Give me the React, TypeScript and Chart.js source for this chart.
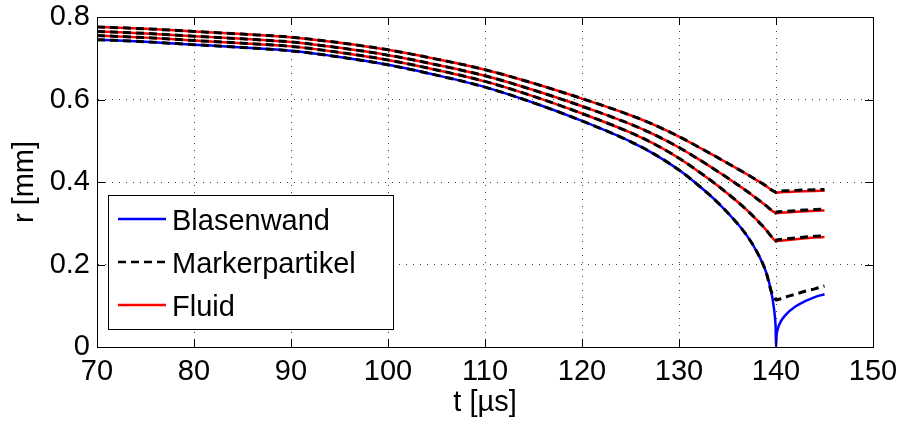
import React, { useEffect, useRef } from "react";
import { Chart, registerables } from "chart.js";

Chart.register(...registerables);

// time axis [µs]
const tValues = [70, 75, 80, 85, 90, 95, 100, 105, 110, 115, 120, 125, 127.5, 130, 132, 134, 136, 137, 138, 139, 139.5, 139.8, 139.9, 139.97, 140, 140.05, 140.2, 140.5, 141, 142, 143, 144, 145];

// Blasenwand (bubble wall) radius [mm]
const blasenwand = [0.745, 0.740, 0.733, 0.726, 0.718, 0.703, 0.684, 0.659, 0.630, 0.592, 0.548, 0.498, 0.467, 0.429, 0.392, 0.350, 0.300, 0.270, 0.232, 0.180, 0.135, 0.092, 0.070, 0.040, 0.000, 0.025, 0.045, 0.062, 0.078, 0.098, 0.111, 0.121, 0.128];

// Fluid element radii [mm]
const fluidInner = [0.755, 0.750, 0.743, 0.7365, 0.7288, 0.7142, 0.6958, 0.6717, 0.6439, 0.6077, 0.5661, 0.5197, 0.4916, 0.4577, 0.4257, 0.3910, 0.3528, 0.3320, 0.3086, 0.2833, 0.2685, 0.2605, 0.2584, 0.2569, 0.2566, 0.2566, 0.2571, 0.2578, 0.2590, 0.2613, 0.2634, 0.2653, 0.2668];
const fluidMiddle = [0.765, 0.7603, 0.7536, 0.747, 0.7395, 0.7253, 0.7075, 0.6843, 0.6575, 0.6229, 0.5836, 0.5403, 0.5143, 0.4837, 0.4554, 0.4256, 0.3941, 0.3777, 0.3601, 0.3421, 0.3322, 0.3271, 0.3257, 0.3248, 0.3246, 0.3246, 0.3249, 0.3254, 0.3261, 0.3276, 0.3290, 0.3301, 0.3311];
const fluidOuter = [0.776, 0.7714, 0.765, 0.7585, 0.7512, 0.7376, 0.7204, 0.6979, 0.6723, 0.6393, 0.6022, 0.5618, 0.5379, 0.5102, 0.4849, 0.4590, 0.4323, 0.4189, 0.4047, 0.3900, 0.3810, 0.3770, 0.3760, 0.3750, 0.3745, 0.3745, 0.3748, 0.3752, 0.3757, 0.3767, 0.3776, 0.3784, 0.3790];

// Markerpartikel (marker particle) radii [mm]
const markerWall = [0.745, 0.740, 0.733, 0.726, 0.718, 0.703, 0.684, 0.659, 0.630, 0.592, 0.548, 0.498, 0.467, 0.429, 0.392, 0.350, 0.300, 0.270, 0.232, 0.180, 0.135, 0.122, 0.117, 0.115, 0.114, 0.114, 0.115, 0.117, 0.121, 0.128, 0.135, 0.141, 0.148];
const markerInner = [0.755, 0.750, 0.743, 0.7365, 0.7288, 0.7142, 0.6958, 0.6717, 0.6439, 0.6077, 0.5661, 0.5197, 0.4916, 0.4577, 0.4257, 0.3910, 0.3528, 0.3320, 0.3086, 0.2833, 0.2685, 0.2605, 0.2584, 0.2569, 0.2566, 0.2596, 0.2601, 0.2608, 0.2620, 0.2643, 0.2664, 0.2683, 0.2698];
const markerMiddle = [0.765, 0.7603, 0.7536, 0.747, 0.7395, 0.7253, 0.7075, 0.6843, 0.6575, 0.6229, 0.5836, 0.5403, 0.5143, 0.4837, 0.4554, 0.4256, 0.3941, 0.3777, 0.3601, 0.3421, 0.3322, 0.3271, 0.3257, 0.3248, 0.3246, 0.3276, 0.3279, 0.3284, 0.3291, 0.3306, 0.3320, 0.3331, 0.3341];
const markerOuter = [0.776, 0.7714, 0.765, 0.7585, 0.7512, 0.7376, 0.7204, 0.6979, 0.6723, 0.6393, 0.6022, 0.5618, 0.5379, 0.5102, 0.4849, 0.4590, 0.4323, 0.4189, 0.4047, 0.3900, 0.3810, 0.3770, 0.3760, 0.3750, 0.3745, 0.3775, 0.3778, 0.3782, 0.3787, 0.3797, 0.3806, 0.3814, 0.3820];

const legendLabels = ["Blasenwand", "Markerpartikel", "Fluid"];
const xTitle = "t [µs]";
const yTitle = "r [mm]";

const FONT = "'Liberation Sans', Arial, Helvetica, sans-serif";
const BLUE = "#0000ff";
const RED = "#ff0000";
const BLACK = "#000000";
const DASH = [8, 5];

const toPoints = (ys: number[]) => tValues.map((x, i) => ({ x, y: ys[i] }));

const framePlugin = {
  id: "matlabFrame",
  afterDraw(chart: any) {
    const { ctx, chartArea: a, scales } = chart;
    ctx.save();
    // inward ticks
    ctx.strokeStyle = BLACK;
    ctx.lineWidth = 1;
    ctx.setLineDash([]);
    const tl = 8;
    scales.x.ticks.forEach((tk: any) => {
      const px = Math.round(scales.x.getPixelForValue(tk.value)) + 0.5;
      ctx.beginPath();
      ctx.moveTo(px, a.bottom);
      ctx.lineTo(px, a.bottom - tl);
      ctx.moveTo(px, a.top);
      ctx.lineTo(px, a.top + tl);
      ctx.stroke();
    });
    scales.y.ticks.forEach((tk: any) => {
      const py = Math.round(scales.y.getPixelForValue(tk.value)) + 0.5;
      ctx.beginPath();
      ctx.moveTo(a.left, py);
      ctx.lineTo(a.left + tl, py);
      ctx.moveTo(a.right, py);
      ctx.lineTo(a.right - tl, py);
      ctx.stroke();
    });
    // box
    ctx.strokeRect(Math.round(a.left) + 0.5, Math.round(a.top) + 0.5, Math.round(a.right - a.left), Math.round(a.bottom - a.top));

    // legend
    const lx = a.left + 11;
    const ly = a.top + 178;
    const lw = 285;
    const lh = 134;
    ctx.fillStyle = "#ffffff";
    ctx.fillRect(lx, ly, lw, lh);
    ctx.strokeStyle = BLACK;
    ctx.lineWidth = 1;
    ctx.strokeRect(Math.round(lx) + 0.5, Math.round(ly) + 0.5, lw, lh);
    const rows = [
      { label: legendLabels[0], color: BLUE, dash: [] as number[], w: 2.5 },
      { label: legendLabels[1], color: BLACK, dash: DASH, w: 2.5 },
      { label: legendLabels[2], color: RED, dash: [] as number[], w: 2.5 },
    ];
    const rowY = [ly + 24, ly + 67, ly + 110];
    rows.forEach((r, i) => {
      const y = rowY[i];
      ctx.beginPath();
      ctx.strokeStyle = r.color;
      ctx.lineWidth = r.w;
      ctx.setLineDash(r.dash);
      ctx.moveTo(lx + 10, y);
      ctx.lineTo(lx + 58, y);
      ctx.stroke();
      ctx.setLineDash([]);
      ctx.fillStyle = BLACK;
      ctx.font = `29px ${FONT}`;
      ctx.textAlign = "left";
      ctx.textBaseline = "alphabetic";
      ctx.fillText(r.label, lx + 64, y + 10.5);
    });
    ctx.restore();
  },
};

export default function App() {
  const ref = useRef<HTMLCanvasElement | null>(null);

  useEffect(() => {
    if (!ref.current) return;
    const lineDs = (data: number[], color: string, dashed: boolean, width: number, order: number) => ({
      data: toPoints(data),
      borderColor: color,
      backgroundColor: color,
      borderWidth: width,
      borderDash: dashed ? DASH : [],
      pointRadius: 0,
      fill: false,
      cubicInterpolationMode: "monotone" as const,
      order,
    });
    const chart = new Chart(ref.current, {
      type: "line",
      data: {
        datasets: [
          { label: legendLabels[1], ...lineDs(markerWall, BLACK, true, 3, 0) },
          { label: legendLabels[1], ...lineDs(markerInner, BLACK, true, 3, 0) },
          { label: legendLabels[1], ...lineDs(markerMiddle, BLACK, true, 3, 0) },
          { label: legendLabels[1], ...lineDs(markerOuter, BLACK, true, 3, 0) },
          { label: legendLabels[0], ...lineDs(blasenwand, BLUE, false, 2.5, 1) },
          { label: legendLabels[2], ...lineDs(fluidInner, RED, false, 2.5, 1) },
          { label: legendLabels[2], ...lineDs(fluidMiddle, RED, false, 2.5, 1) },
          { label: legendLabels[2], ...lineDs(fluidOuter, RED, false, 2.5, 1) },
        ],
      },
      options: {
        responsive: false,
        animation: false,
        layout: { padding: { left: 0, right: 29, top: 17, bottom: 0 } },
        plugins: {
          legend: { display: false },
          tooltip: { enabled: false },
        },
        scales: {
          x: {
            type: "linear",
            min: 70,
            max: 150,
            afterFit: (s: any) => {
              s.height = 74;
              s.paddingLeft = 0;
              s.paddingRight = 0;
            },
            ticks: {
              stepSize: 10,
              color: BLACK,
              padding: 10,
              font: { family: FONT, size: 29, lineHeight: 1 },
              maxRotation: 0,
            },
            grid: {
              color: "rgba(0,0,0,0.75)",
              lineWidth: 1,
              drawTicks: false,
            },
            border: { display: true, color: BLACK, width: 1, dash: [1, 6] },
            title: {
              display: true,
              text: xTitle,
              color: BLACK,
              font: { family: FONT, size: 29, lineHeight: 1 },
              padding: { top: 0, bottom: 4 },
            },
          },
          y: {
            type: "linear",
            min: 0,
            max: 0.8,
            afterFit: (s: any) => {
              s.width = 97;
              s.paddingTop = 0;
              s.paddingBottom = 0;
            },
            ticks: {
              stepSize: 0.2,
              color: BLACK,
              padding: 7,
              font: { family: FONT, size: 29, lineHeight: 1 },
              callback: (v: any) => (Number(v) === 0 ? "0" : Number(v).toFixed(1)),
            },
            grid: {
              color: "rgba(0,0,0,0.75)",
              lineWidth: 1,
              drawTicks: false,
            },
            border: { display: true, color: BLACK, width: 1, dash: [1, 6] },
            title: {
              display: true,
              text: yTitle,
              color: BLACK,
              font: { family: FONT, size: 29, lineHeight: 1 },
              padding: { top: 10, bottom: 0 },
            },
          },
        },
      },
      plugins: [framePlugin],
    });
    return () => chart.destroy();
  }, []);

  return (
    <div style={{ position: "fixed", left: 0, top: 0, width: 902, height: 421, background: "#fff" }}>
      <canvas ref={ref} width={902} height={421} style={{ display: "block" }} />
    </div>
  );
}
